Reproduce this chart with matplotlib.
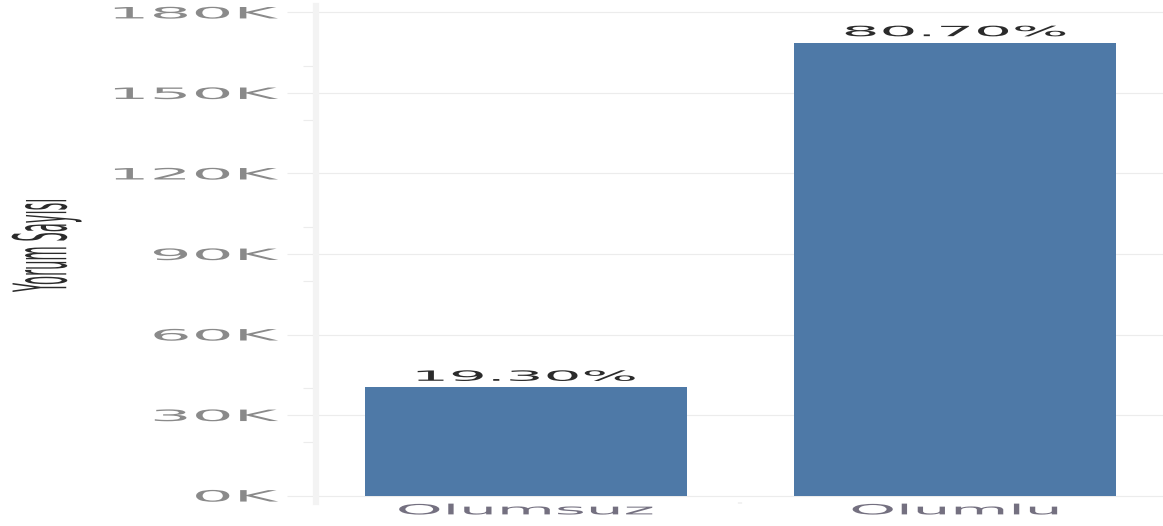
import matplotlib
matplotlib.use("Agg")
import matplotlib.pyplot as plt
import matplotlib.patheffects as patheffects
from matplotlib.transforms import Affine2D
from matplotlib.ticker import FixedLocator, MultipleLocator, FuncFormatter

# Review counts per sentiment class
categories = ["Olumsuz", "Olumlu"]
counts = [40350, 168750]
y_ticks = [0, 30000, 60000, 90000, 120000, 150000, 180000]

total = sum(counts)
percent_labels = [f"{c / total * 100:.2f}%" for c in counts]

SX = 4.2  # horizontal widening of the text glyphs


class StretchX(patheffects.AbstractPathEffect):
    """Widen a text path horizontally around one of its edges."""

    def __init__(self, sx, anchor="center"):
        super().__init__()
        self.sx = sx
        self.anchor = anchor

    def draw_path(self, renderer, gc, tpath, affine, rgbFace=None):
        bb = tpath.get_extents(affine)
        x0 = {"left": bb.x0, "center": (bb.x0 + bb.x1) / 2, "right": bb.x1}[self.anchor]
        stretch = Affine2D().translate(-x0, 0).scale(self.sx, 1).translate(x0, 0)
        renderer.draw_path(gc, tpath, affine + stretch, rgbFace)


plt.rcParams["font.family"] = ["DejaVu Sans"]

W, H = 1163, 526
fig = plt.figure(figsize=(W / 100, H / 100), dpi=100)
# axes box in pixels: left 316, right 1163, top 6, bottom 502
ax = fig.add_axes([316 / W, (H - 502) / H, (W - 316) / W, 496 / H])

x = list(range(len(categories)))
bars = ax.bar(x, counts, width=0.75, color="#4e79a7", zorder=3)

ax.set_xlim(-0.488, 1.484)
ax.set_ylim(-2400, 182400)

# percentage labels above the bars
for rect, lab in zip(bars, percent_labels):
    t = ax.annotate(lab, (rect.get_x() + rect.get_width() / 2, rect.get_height()),
                    xytext=(0, 2.5), textcoords="offset points",
                    ha="center", va="bottom", fontsize=10.2, color="#2b2b2b")
    t.set_path_effects([StretchX(SX, "center")])

# y axis: major every 30K, minor every 20K
ax.yaxis.set_major_locator(FixedLocator(y_ticks))
ax.yaxis.set_minor_locator(MultipleLocator(20000))
ax.yaxis.set_major_formatter(FuncFormatter(lambda v, p: f"{v / 1000:.0f}K"))
ax.tick_params(axis="y", which="major", length=21, width=0.8, color="#ececec",
               pad=6.5, labelsize=11.3, labelcolor="#8a8a8a")
ax.tick_params(axis="y", which="minor", length=9.5, width=0.8, color="#ececec")
for lab in ax.get_yticklabels():
    lab.set_path_effects([StretchX(SX, "right")])

ax.set_xticks(x)
ax.set_xticklabels(categories)
ax.set_xticks([0.5], minor=True)
ax.tick_params(axis="x", which="major", length=0, pad=1, labelsize=10.2,
               labelcolor="#747080")
ax.tick_params(axis="x", which="minor", length=1.5, width=3, color="#f2f2f2")
for lab in ax.get_xticklabels():
    lab.set_path_effects([StretchX(SX, "center")])

ax.grid(axis="y", color="#ececec", linewidth=0.8, zorder=0)
ax.set_axisbelow(True)

for side in ["top", "right", "bottom"]:
    ax.spines[side].set_visible(False)
ax.spines["left"].set_color("#f3f3f3")
ax.spines["left"].set_linewidth(4.5)

ylab = fig.text(46 / W, 1 - 245 / H, "Yorum Sayısı", rotation=90,
                ha="center", va="center", fontsize=10.6, color="#2b2b2b")
ylab.set_path_effects([StretchX(5.0, "center")])

fig.savefig("out.png", dpi=100, facecolor="white")
